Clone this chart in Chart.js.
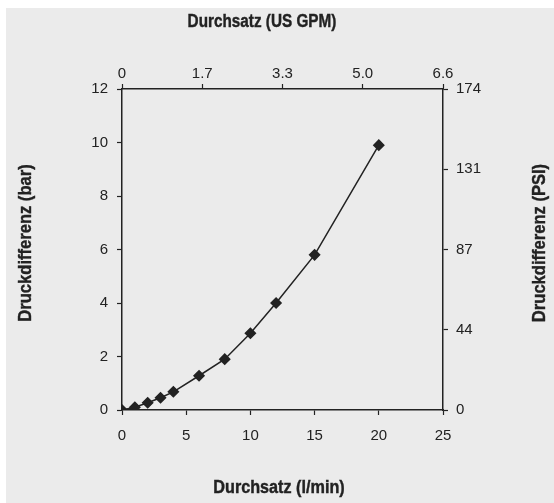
<!DOCTYPE html>
<html>
<head>
<meta charset="utf-8">
<script src="https://cdn.jsdelivr.net/npm/chart.js@4"></script>
<style>
    body{margin:0;background:#fff}
    canvas{display:block}
</style>
</head>
<body>
<canvas id="graph" width="554" height="503"></canvas>
<script>
// =========================== Data
flow_lmin = [0, 1, 2, 3, 4, 6, 8, 10, 12, 15, 20]
dp_bar = [0, 0.1, 0.27, 0.46, 0.68, 1.28, 1.9, 2.87, 4.0, 5.8, 9.9]
gpm_labels = ['0', '1.7', '3.3', '5.0', '6.6']
psi_labels = ['0', '44', '87', '131', '174']

title_bottom = 'Durchsatz (l/min)'
title_top = 'Durchsatz (US GPM)'
title_left = 'Druckdifferenz (bar)'
title_right = 'Druckdifferenz (PSI)'

const ink = '#222'
const tickFont = {family: '"Liberation Sans", Arial, sans-serif', size: 15}

// grey panel behind everything
const panel = {
    id: 'panel',
    beforeDraw(chart){
        const c = chart.ctx
        c.save()
        c.fillStyle = '#ebebeb'
        c.fillRect(6, 8, chart.width - 6, chart.height - 8)
        c.restore()
    }
}

// axis titles, both vertical ones read bottom to top
function title(c, txt, x, y, rot, sx){
    c.save()
    c.translate(x, y)
    c.rotate(rot)
    c.scale(sx, 1)
    c.fillText(txt, 0, 0)
    c.strokeText(txt, 0, 0)
    c.restore()
}
const titles = {
    id: 'titles',
    afterDraw(chart){
        const c = chart.ctx
        const a = chart.chartArea
        c.save()
        c.font = 'bold 18px "Liberation Sans", Arial, sans-serif'
        c.fillStyle = ink
        c.strokeStyle = ink
        c.lineWidth = 0.4
        c.textAlign = 'center'
        c.textBaseline = 'middle'
        title(c, title_top, a.left + 140, 22, 0, 0.85)
        title(c, title_bottom, a.left + 157, 488, 0, 0.9)
        title(c, title_left, 26.5, a.top + 154, -Math.PI / 2, 0.92)
        title(c, title_right, 540, a.top + 154, -Math.PI / 2, 0.92)
        c.restore()
    }
}

function axis(pos, extra){
    return Object.assign({
        type: 'linear',
        position: pos,
        border: {display: true, color: ink, width: 1.5},
        grid: {drawOnChartArea: false, drawTicks: true, tickLength: 5, tickColor: ink, tickWidth: 1.2},
    }, extra)
}

const points = flow_lmin.map((x, i) => ({x: x, y: dp_bar[i]}))

new Chart(document.getElementById('graph'), {
    type: 'scatter',
    data: {
        datasets: [{
            data: points,
            showLine: true,
            borderColor: ink,
            borderWidth: 1.5,
            backgroundColor: ink,
            pointStyle: 'rectRot',
            pointRadius: 5,
            xAxisID: 'x',
            yAxisID: 'y'
        }]
    },
    plugins: [panel, titles],
    options: {
        responsive: false,
        animation: false,
        layout: {padding: 0},
        plugins: {legend: {display: false}, tooltip: {enabled: false}},
        scales: {
            x: axis('bottom', {
                min: 0, max: 25,
                ticks: {color: ink, font: tickFont, stepSize: 5, padding: 12, maxRotation: 0},
                afterFit(s){ s.height = 93 }
            }),
            x2: axis('top', {
                min: 0, max: 25,
                ticks: {color: ink, font: tickFont, stepSize: 6.25, padding: 1, maxRotation: 0,
                    callback: (v, i) => gpm_labels[i]},
                afterFit(s){ s.height = 89 }
            }),
            y: axis('left', {
                min: 0, max: 12,
                ticks: {color: ink, font: tickFont, stepSize: 2, padding: 9},
                afterFit(s){ s.width = 122 }
            }),
            y2: axis('right', {
                min: 0, max: 12,
                ticks: {color: ink, font: tickFont, stepSize: 3, padding: 8,
                    callback: (v, i) => psi_labels[i]},
                afterFit(s){ s.width = 111 }
            })
        }
    }
})
</script>
</body>
</html>
